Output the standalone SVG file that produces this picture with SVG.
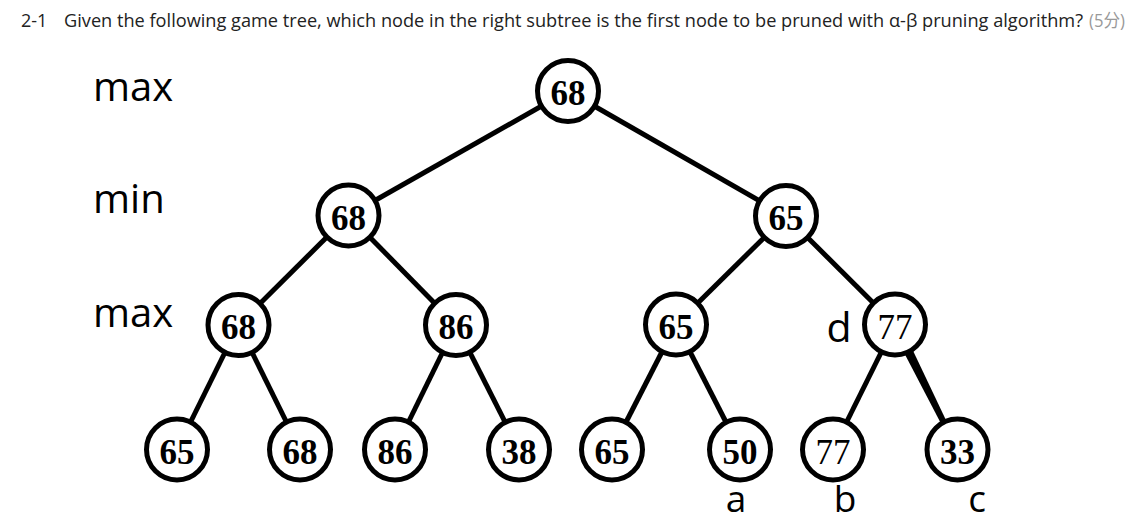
<svg xmlns="http://www.w3.org/2000/svg" width="1135" height="522" viewBox="0 0 1135 522">
<style>
.hdr{font-family:"Open Sans","Noto Sans","Noto Sans CJK SC",sans-serif;font-size:18px;fill:#222}
.pts{font-family:"Open Sans","Noto Sans CJK SC",sans-serif;font-size:18px;fill:#999}
.lvl{font-family:"Open Sans","Noto Sans",sans-serif;font-size:40px;fill:#000}
.lbl{font-family:"Open Sans","Noto Sans",sans-serif;font-size:41px;fill:#000;text-anchor:middle}
.lbl2{font-family:"Open Sans","Noto Sans",sans-serif;font-size:37px;fill:#000;text-anchor:middle}
.edge{stroke:#000;stroke-width:5;fill:none}
.node circle{fill:#fff;stroke:#000;stroke-width:5}
.node text{font-family:"Liberation Serif","Times New Roman",serif;font-size:35px;font-weight:bold;text-anchor:middle;fill:#000}
.node text.thin{font-weight:normal}
</style>
<rect width="1135" height="522" fill="#fff"/>
<text class="hdr" x="21" y="27">2-1</text>
<text class="hdr" x="64" y="27" textLength="1019" lengthAdjust="spacingAndGlyphs">Given the following game tree, which node in the right subtree is the first node to be pruned with α-β pruning algorithm?</text>
<text class="pts" x="1089" y="27" textLength="36" lengthAdjust="spacingAndGlyphs">(5分)</text>
<g id="levels">
<text class="lvl" x="93" y="101">max</text>
<text class="lvl" x="93" y="213">min</text>
<text class="lvl" x="93" y="327">max</text>
</g>
<g id="connectors">
<line class="edge" x1="568" y1="91" x2="348.5" y2="215.5"/>
<line class="edge" x1="568" y1="91" x2="786" y2="216"/>
<line class="edge" x1="348.5" y1="215.5" x2="238.5" y2="325"/>
<line class="edge" x1="348.5" y1="215.5" x2="456" y2="325"/>
<line class="edge" x1="786" y1="216" x2="676" y2="324.5"/>
<line class="edge" x1="786" y1="216" x2="895" y2="324.5"/>
<line class="edge" x1="238.5" y1="325" x2="177" y2="449.5"/>
<line class="edge" x1="238.5" y1="325" x2="300" y2="449.5"/>
<line class="edge" x1="456" y1="325" x2="395" y2="449.5"/>
<line class="edge" x1="456" y1="325" x2="519" y2="449.5"/>
<line class="edge" x1="676" y1="324.5" x2="612" y2="449.5"/>
<line class="edge" x1="676" y1="324.5" x2="740" y2="449.5"/>
<line class="edge" x1="895" y1="324.5" x2="833" y2="449.5"/>
<polygon fill="#000" points="899.5,322.3 890.5,326.7 955.3,451.1 959.7,448.9"/>
</g>
<g id="n-root" class="node"><circle cx="568" cy="91" r="30.5"/><text x="568" y="105">68</text></g>
<g id="n-minL" class="node"><circle cx="348.5" cy="215.5" r="30.5"/><text x="348.5" y="229.5">68</text></g>
<g id="n-minR" class="node"><circle cx="786" cy="216" r="30.5"/><text x="786" y="230">65</text></g>
<g id="n-maxLL" class="node"><circle cx="238.5" cy="325" r="30.5"/><text x="238.5" y="339">68</text></g>
<g id="n-maxLR" class="node"><circle cx="456" cy="325" r="30.5"/><text x="456" y="339">86</text></g>
<g id="n-maxRL" class="node"><circle cx="676" cy="324.5" r="30.5"/><text x="676" y="338.5">65</text></g>
<g id="n-d" class="node"><circle cx="895" cy="324.5" r="30.5"/><text class="thin" x="895" y="338.5">77</text></g>
<g id="n-l1" class="node"><circle cx="177" cy="449.5" r="30.5"/><text x="177" y="463.5">65</text></g>
<g id="n-l2" class="node"><circle cx="300" cy="449.5" r="30.5"/><text x="300" y="463.5">68</text></g>
<g id="n-l3" class="node"><circle cx="395" cy="449.5" r="30.5"/><text x="395" y="463.5">86</text></g>
<g id="n-l4" class="node"><circle cx="519" cy="449.5" r="30.5"/><text x="519" y="463.5">38</text></g>
<g id="n-l5" class="node"><circle cx="612" cy="449.5" r="30.5"/><text x="612" y="463.5">65</text></g>
<g id="n-a" class="node"><circle cx="740" cy="449.5" r="30.5"/><text x="740" y="463.5">50</text></g>
<g id="n-b" class="node"><circle cx="833" cy="449.5" r="30.5"/><text class="thin" x="833" y="463.5">77</text></g>
<g id="n-c" class="node"><circle cx="957.5" cy="449.5" r="30.5"/><text x="957.5" y="463.5">33</text></g>
<g id="labels">
<text class="lbl" x="839" y="342">d</text>
<text class="lbl2" x="736" y="512">a</text>
<text class="lbl2" x="845" y="512">b</text>
<text class="lbl2" x="977" y="512">c</text>
</g>
</svg>
